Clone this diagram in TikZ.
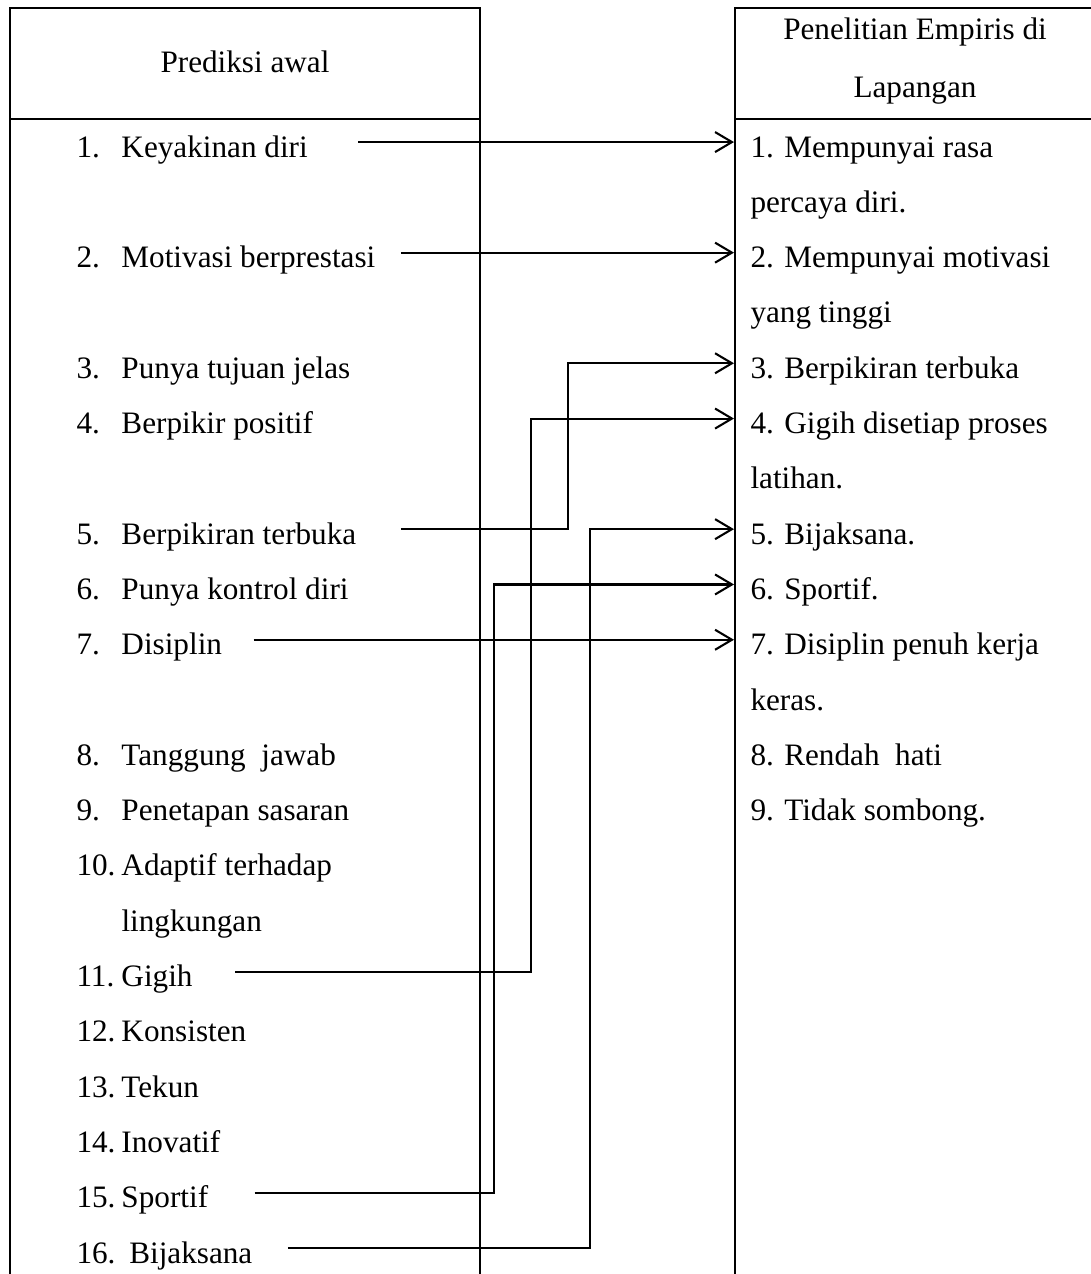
\documentclass[tikz,border=0pt]{standalone}
\usepackage{fontspec}
\setmainfont{Liberation Serif}
\usetikzlibrary{arrows.meta,positioning,calc}
\tikzset{
	item/.style={anchor=base west,inner sep=0pt,text height=14pt,text depth=2.5pt,font=\fontsize{12}{14}\selectfont},
	ritem/.style={item,inner xsep=6.15pt},head/.style={anchor=base,inner sep=0pt,font=\fontsize{12}{14}\selectfont},
	conn/.style={-{Straight Barb[length=6.5pt,width=7.7pt]},draw=black,line width=0.8pt},
	frame/.style={draw=black,line width=0.7pt}
}
\begin{document}
\begin{tikzpicture}[x=0.3846pt,y=-0.3846pt]
		\useasboundingbox (0,0) rectangle (1091,1274);
		\clip (0,0) rectangle (1091,1274);
		% kolom kiri dan kanan
		\draw[frame] (10,1290) -- (10,8) -- (480,8) -- (480,1290);
		\draw[frame] (10,119) -- (480,119);
		\draw[frame] (735,1290) -- (735,8) -- (1100,8) -- (1100,1290);
		\draw[frame] (735,119) -- (1100,119);
		\node[head] (hkiri) at (245,72) {Prediksi awal};
		\node[head] (hkanan1) at (915,39) {Penelitian Empiris di};
		\node[head] (hkanan2) at (915,97) {Lapangan};
		% prediksi awal
		\foreach \r/\n/\t in {0/1/Keyakinan diri,2/2/Motivasi berprestasi,4/3/Punya tujuan jelas,5/4/Berpikir positif,7/5/Berpikiran terbuka,8/6/Punya kontrol diri,9/7/Disiplin,11/8/Tanggung\ \ jawab,12/9/Penetapan sasaran,13/10/Adaptif terhadap,15/11/Gigih,16/12/Konsisten,17/13/Tekun,18/14/Inovatif,19/15/Sportif,20/16/\hspace{3pt}Bijaksana}
			\node[item] (l\n) at (76,157+55.3*\r) {\makebox[17.3pt][l]{\n.}\t};
		\node[item] (l10b) at (121,157+55.3*14) {lingkungan};
		% penelitian empiris
		\foreach \r/\n/\t in {0/1/Mempunyai rasa,2/2/Mempunyai motivasi,4/3/Berpikiran terbuka,5/4/Gigih disetiap proses,7/5/Bijaksana.,8/6/Sportif.,9/7/Disiplin penuh kerja,11/8/Rendah\ \ hati,12/9/Tidak sombong.}
			\node[ritem] (r\n) at (734,157+55.3*\r) {\n. \t};
		\foreach \r/\n/\t in {1/1/percaya diri.,3/2/yang tinggi,6/4/latihan.,10/7/keras.}
			\node[ritem] (r\n b) at (734,157+55.3*\r) {\t};
		% hubungan
		\draw[conn] (l1.east) ++(50,0) -- (r1.west);
		\draw[conn] (l2.east) ++(25,0) -- (r2.west);
		\draw[conn] (l7.east) ++(31,0) -- (r7.west);
		\draw[conn] (l5.east) ++(44,0) -| (568,0 |- r3.west) -- (r3.west);
		\draw[conn] (l11.east) ++(42,0) -| (531,0 |- r4.west) -- (r4.west);
		\draw[conn] (l15.east) ++(46,0) -| (494,0 |- r6.west) -- (r6.west);
		\draw[conn] (l16.east) ++(35,0) -| (590,0 |- r5.west) -- (r5.west);
		\end{tikzpicture}
\end{document}
